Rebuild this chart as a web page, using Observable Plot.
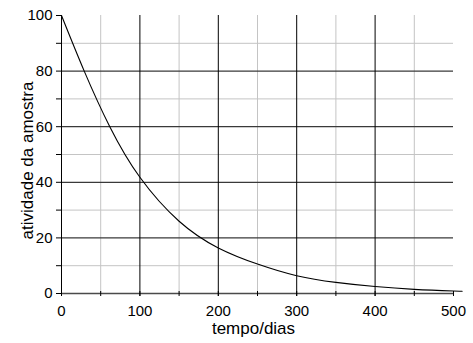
<!DOCTYPE html>
<html>
<head>
<meta charset="utf-8">
<script src="https://cdn.jsdelivr.net/npm/d3@7"></script>
<script src="https://cdn.jsdelivr.net/npm/@observablehq/plot@0.6"></script>
<style>
  html, body { margin: 0; padding: 0; background: #fff; }
  svg { display: block; font-family: "Liberation Sans", Arial, sans-serif; }
</style>
</head>
<body>
<div id="chart"></div>
<script>
// Curve values
const days = [0, 29, 61.6, 100, 150, 200, 250, 300, 350, 400, 450, 500, 511];
const activity = [100, 80, 60, 41.8, 26, 16.4, 10.6, 6.4, 4.0, 2.5, 1.5, 0.9, 0.8];

// Ticks and grid positions
const xMajor = [0, 100, 200, 300, 400];
const xMinor = [50, 150, 250, 350, 450];
const xTicks = [0, 50, 100, 150, 200, 250, 300, 350, 400, 450, 500];
const xLabels = [0, 100, 200, 300, 400, 500];
const yMajor = [20, 40, 60, 80];
const yMinor = [10, 30, 50, 70, 90];
const yTicks = [0, 10, 20, 30, 40, 50, 60, 70, 80, 90, 100];
const yLabels = [0, 20, 40, 60, 80, 100];

const xTitle = "tempo/dias";
const yTitle = "atividade da amostra";

const data = days.map((d, i) => ({day: d, act: activity[i]}));

const chart = Plot.plot({
  width: 473,
  height: 343,
  marginLeft: 61,
  marginRight: 20,
  marginTop: 15,
  marginBottom: 50,
  style: {fontFamily: "'Liberation Sans', Arial, sans-serif", fontSize: "15px", color: "#000", background: "#fff"},
  x: {domain: [0, 500]},
  y: {domain: [0, 100]},
  marks: [
    Plot.gridX({ticks: xMinor, stroke: "#c4c4c4", strokeOpacity: 1, strokeWidth: 1}),
    Plot.gridY({ticks: yMinor, stroke: "#c4c4c4", strokeOpacity: 1, strokeWidth: 1}),
    Plot.gridY({ticks: yMajor, stroke: "#3a3a3a", strokeOpacity: 1, strokeWidth: 1.2}),
    Plot.gridY({ticks: [0], stroke: "#4a4a4a", strokeOpacity: 1, strokeWidth: 1.3}),
    Plot.gridX({ticks: xMajor, stroke: "#000", strokeOpacity: 1, strokeWidth: 1, insetBottom: -3}),
    Plot.axisX({ticks: xTicks, tickSize: 5, dy: -2, tickFormat: () => "", label: null, stroke: "#000"}),
    Plot.axisX({ticks: xLabels, tickSize: 0, tickPadding: 12, fontSize: 15, label: null, fill: "#000"}),
    Plot.axisY({ticks: yTicks, tickSize: 5, tickPadding: 4, fontSize: 15, label: null,
                tickFormat: d => (yLabels.includes(d) ? String(d) : ""), stroke: "#000", fill: "#000"}),
    Plot.line(data, {x: "day", y: "act", curve: "natural", stroke: "#000", strokeWidth: 1.1, clip: false}),
    Plot.text([xTitle], {frameAnchor: "bottom", text: d => d, dx: -4, dy: 40, lineAnchor: "bottom", fontSize: 17, fill: "#000"}),
    Plot.text([yTitle], {frameAnchor: "left", text: d => d, rotate: -90, textAnchor: "middle", dx: -29, dy: 6, lineAnchor: "bottom", fontSize: 17, fill: "#000"})
  ]
});
document.getElementById("chart").appendChild(chart);
</script>
</body>
</html>
